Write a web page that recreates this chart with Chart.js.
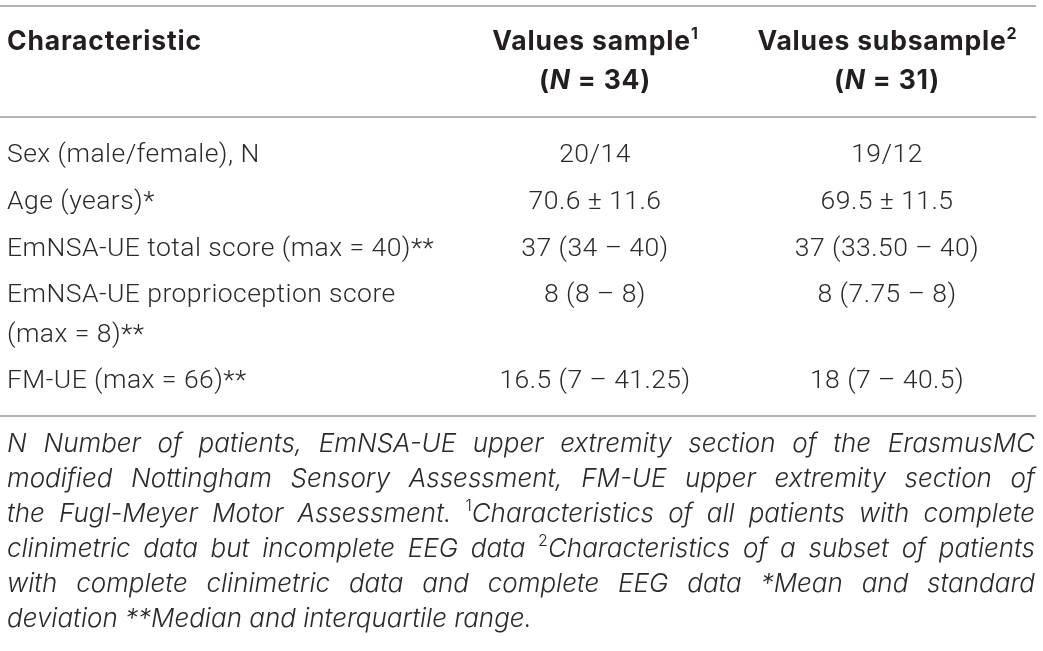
<!DOCTYPE html>
<html>
<head>
<meta charset="utf-8">
<script src="https://cdn.jsdelivr.net/npm/chart.js"></script>
<style>
  html, body { margin: 0; padding: 0; background: #fff; }
  #wrap { width: 1043px; height: 651px; }
</style>
</head>
<body>
<div id="wrap"><canvas id="tableChart" width="1043" height="651"></canvas></div>
<script>
// table content ("^1" = superscript, "_N_" = italic, "\n" = line break)
const headerCells = ["Characteristic", "Values sample^1\n(_N_ = 34)", "Values subsample^2\n(_N_ = 31)"];
const characteristics = [
  "Sex (male/female), N",
  "Age (years)*",
  "EmNSA-UE total score (max = 40)**",
  "EmNSA-UE proprioception score\n(max = 8)**",
  "FM-UE (max = 66)**",
];
const sampleValues = ["20/14", "70.6 ± 11.6", "37 (34 – 40)", "8 (8 – 8)", "16.5 (7 – 41.25)"];
const subsampleValues = ["19/12", "69.5 ± 11.5", "37 (33.50 – 40)", "8 (7.75 – 8)", "18 (7 – 40.5)"];
const footnoteLines = [
  "N Number of patients, EmNSA-UE upper extremity section of the ErasmusMC",
  "modified Nottingham Sensory Assessment, FM-UE upper extremity section of",
  "the Fugl-Meyer Motor Assessment. ^1Characteristics of all patients with complete",
  "clinimetric data but incomplete EEG data ^2Characteristics of a subset of patients",
  "with complete clinimetric data and complete EEG data *Mean and standard",
  "deviation **Median and interquartile range.",
];

// layout (in scale units = page px)
const colAnchors = [7, 595, 887];        // first column left aligned, others centred
const headerBaselines = [50, 89];
const rowBaselines = [162, 209, 256, 302, 388];
const lineGap = 40;
const ruleYs = [6, 117, 416];
const ruleX = [0, 1036];
const noteTop = 452, noteGap = 35, noteLeft = 7, noteRight = 1035;

function parseRuns(str) {
  const runs = [];
  str.split(/(\^\d|_[^_]+_)/).forEach((p) => {
    if (!p) return;
    if (p[0] === "^") runs.push({ t: p.slice(1), sup: true });
    else if (p[0] === "_" && p.length > 2) runs.push({ t: p.slice(1, -1), italic: true });
    else runs.push({ t: p });
  });
  return runs;
}

function runFont(ctx, run, base) {
  const style = !run.sup && (run.italic || base.italic) ? "italic" : "normal";
  const size = run.sup ? Math.round(base.size * 0.62) : base.size;
  ctx.letterSpacing = run.sup ? "0px" : (base.spacing || "0px");
  ctx.font = `${style} ${base.weight} ${size}px ${base.family}`;
}

function richWidth(ctx, runs, base) {
  let w = 0;
  runs.forEach((r) => { runFont(ctx, r, base); w += ctx.measureText(r.t).width; });
  return w;
}

function drawRich(ctx, str, x, y, base, align) {
  const runs = parseRuns(str);
  let cx = x;
  if (align === "center") cx = x - richWidth(ctx, runs, base) / 2;
  runs.forEach((r) => {
    runFont(ctx, r, base);
    ctx.fillText(r.t, cx, r.sup ? y - base.size * 0.42 : y);
    cx += ctx.measureText(r.t).width;
  });
}

function drawJustified(ctx, str, x0, x1, y, base, last) {
  const words = str.split(" ");
  if (last) { drawRich(ctx, str, x0, y, base, "left"); return; }
  const widths = words.map((w) => richWidth(ctx, parseRuns(w), base));
  const total = widths.reduce((a, b) => a + b, 0);
  const gap = (x1 - x0 - total) / (words.length - 1);
  let cx = x0;
  words.forEach((w, i) => {
    drawRich(ctx, w, cx, y, base, "left");
    cx += widths[i] + gap;
  });
}

const tablePlugin = {
  id: "tableCells",
  beforeDraw(chart) {
    const { ctx, width, height } = chart;
    ctx.save();
    ctx.fillStyle = "#fff";
    ctx.fillRect(0, 0, width, height);
    ctx.restore();
  },
  afterDraw(chart) {
    const { ctx } = chart;
    const xs = chart.scales.x, ys = chart.scales.y;
    const px = (v) => xs.getPixelForValue(v);
    const py = (v) => ys.getPixelForValue(v);
    ctx.save();
    ctx.textBaseline = "alphabetic";

    // rules
    ctx.strokeStyle = "#9b9b9b";
    ctx.lineWidth = 1.5;
    ruleYs.forEach((y) => {
      ctx.beginPath();
      ctx.moveTo(px(ruleX[0]), py(y));
      ctx.lineTo(px(ruleX[1]), py(y));
      ctx.stroke();
    });

    // header
    const bold = { family: "Inter, sans-serif", weight: 700, size: 26.5, spacing: "0.8px" };
    ctx.fillStyle = "#231f20";
    headerCells.forEach((cell, c) => {
      cell.split("\n").forEach((line, k) => {
        drawRich(ctx, line, px(colAnchors[c]), py(headerBaselines[k]), bold, c === 0 ? "left" : "center");
      });
    });

    // body cells
    ctx.fillStyle = "#2a2a2a";
    const light = { family: "Roboto, sans-serif", weight: 300, size: 26.5, spacing: "0.45px" };
    const columns = [characteristics, sampleValues, subsampleValues];
    columns.forEach((col, c) => {
      col.forEach((cell, r) => {
        cell.split("\n").forEach((line, k) => {
          drawRich(ctx, line, px(colAnchors[c]), py(rowBaselines[r] + k * lineGap), light, c === 0 ? "left" : "center");
        });
      });
    });

    // footnote
    const note = { family: "Inter, sans-serif", weight: 300, size: 26, italic: true };
    footnoteLines.forEach((line, i) => {
      drawJustified(ctx, line, px(noteLeft), px(noteRight), py(noteTop + i * noteGap), note, i === footnoteLines.length - 1);
    });
    ctx.restore();
  },
};

new Chart(document.getElementById("tableChart"), {
  type: "scatter",
  data: { datasets: [] },
  options: {
    responsive: false,
    animation: false,
    layout: { padding: 0 },
    plugins: { legend: { display: false }, tooltip: { enabled: false } },
    scales: {
      x: { type: "linear", min: 0, max: 1043, display: false },
      y: { type: "linear", min: 0, max: 651, reverse: true, display: false },
    },
  },
  plugins: [tablePlugin],
});
</script>
</body>
</html>
